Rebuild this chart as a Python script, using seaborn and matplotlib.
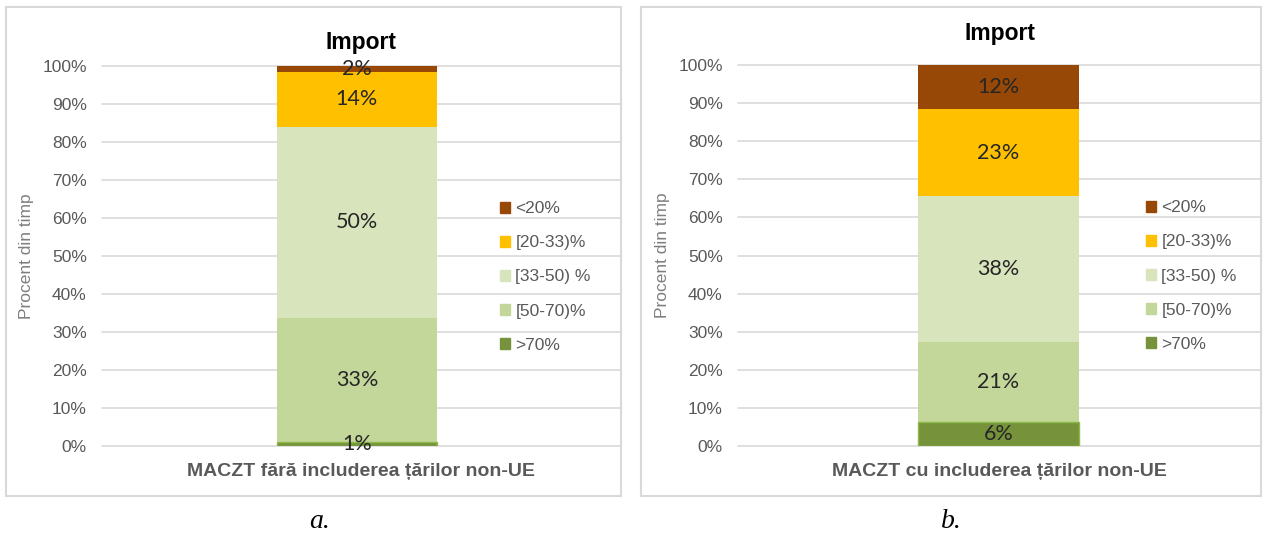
import numpy as np
import pandas as pd
import matplotlib
matplotlib.use('Agg')
import matplotlib.pyplot as plt
from matplotlib.patches import Patch, Rectangle
from matplotlib.ticker import FuncFormatter
import seaborn as sns

# segment labels, bottom of the bar to the top
classes = ['>70%', '[50-70)%', '[33-50) %', '[20-33)%', '<20%']
class_colors = ['#76933C', '#C4D79B', '#D8E4BC', '#FFC000', '#974806']

# share of time per class (percent)
values_a = [1.1, 32.6, 50.3, 14.4, 1.6]
values_b = [6.3, 21.0, 38.3, 22.8, 11.6]

xlabel_a = 'MACZT fără includerea țărilor non-UE'
xlabel_b = 'MACZT cu includerea țărilor non-UE'
title = 'Import'
ylabel = 'Procent din timp'
captions = ['a.', 'b.']

sns.set_theme(style='white')
plt.rcParams['font.family'] = ['Liberation Sans', 'DejaVu Sans']

W, H = 1264, 537
fig = plt.figure(figsize=(W / 100, H / 100), dpi=100)
grey = '#595959'


def px_axes(x0, x1, y_top, y_bot):
    return fig.add_axes([x0 / W, 1 - y_bot / H, (x1 - x0) / W, (y_bot - y_top) / H])


def draw_panel(ax, values, xlabel, bar_center, title_pad):
    df = pd.DataFrame({'cls': classes, 'val': values, 'color': class_colors})
    df['top'] = df['val'].cumsum()
    df['mid'] = df['top'] - df['val'] / 2
    # stacked bars: draw tallest cumulative first, then cover it downwards
    for i in range(len(df) - 1, -1, -1):
        row = df.iloc[i]
        green = row['cls'] == '>70%'
        sns.barplot(x=[xlabel], y=[row['top']], color=row['color'], width=0.309,
                    saturation=1, edgecolor='#8DB84A' if green else 'none',
                    linewidth=1 if green else 0, ax=ax, zorder=3)
    for _, row in df.iterrows():
        ax.text(0, row['mid'], f"{row['val']:.0f}%", ha='center', va='center',
                fontsize=15.5, color='#262626', family=['Lato', 'DejaVu Sans'], zorder=5)

    ax.set_xlim(-bar_center, 1 - bar_center)
    ax.set_ylim(0, 100)
    ax.set_yticks(np.arange(0, 101, 10))
    ax.yaxis.set_major_formatter(FuncFormatter(lambda v, p: f'{v:.0f}%'))
    ax.tick_params(axis='y', labelsize=12.5, colors=grey, length=0, pad=11)
    ax.set_xticks([])
    ax.grid(axis='y', color='#D9D9D9', linewidth=1.2, zorder=0)
    for gl in ax.get_ygridlines():
        gl.set_clip_on(False)
    ax.set_axisbelow(True)
    for s in ax.spines.values():
        s.set_visible(False)
    ax.set_xlabel(xlabel, fontsize=14, fontweight='bold', color=grey, labelpad=12)
    ax.set_ylabel(ylabel, fontsize=12.5, color='#7F7F7F', labelpad=6)
    ax.set_title(title, fontsize=16.5, fontweight='bold', color='black', pad=title_pad)


# panel frames
fig.patches.append(Rectangle((6 / W, 1 - 496 / H), 615 / W, 489 / H, transform=fig.transFigure,
                             fill=False, edgecolor='#D9D9D9', linewidth=1.5))
fig.patches.append(Rectangle((641 / W, 1 - 496 / H), 620 / W, 489 / H, transform=fig.transFigure,
                             fill=False, edgecolor='#D9D9D9', linewidth=1.5))

ax_a = px_axes(102, 620, 66, 446)
ax_b = px_axes(738, 1261, 65, 446)
draw_panel(ax_a, values_a, xlabel_a, 0.492, 12)
draw_panel(ax_b, values_b, xlabel_b, 0.498, 18)

handles = [Patch(facecolor=c, edgecolor=c, label=l) for l, c in zip(classes, class_colors)][::-1]
for x_leg, y_leg in [(491, 277), (1137, 276)]:
    fig.legend(handles=handles, loc='center left', bbox_to_anchor=(x_leg / W, 1 - y_leg / H),
               frameon=False, fontsize=12.5, labelcolor=grey, handlelength=0.6,
               handleheight=0.6, handletextpad=0.3, labelspacing=1.1, borderpad=0)

for cap, xc in zip(captions, [320, 951]):
    fig.text(xc / W, 1 - 522 / H, cap, ha='center', va='center', fontsize=20,
             style='italic', family=['Liberation Serif', 'DejaVu Serif'], color='black')

fig.savefig('out.png', dpi=100)
